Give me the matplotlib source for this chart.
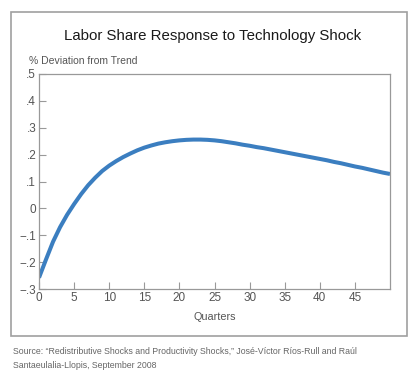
import matplotlib.pyplot as plt
from matplotlib.patches import Rectangle

quarters = list(range(51))
labor_share = [-0.258, -0.19, -0.124, -0.07, -0.024, 0.016, 0.053, 0.086, 0.114, 0.139,
               0.159, 0.176, 0.191, 0.204, 0.216, 0.226, 0.234, 0.241, 0.246, 0.250,
               0.253, 0.255, 0.256, 0.256, 0.255, 0.253, 0.250, 0.246, 0.242, 0.237,
               0.233, 0.228, 0.224, 0.219, 0.214, 0.209, 0.204, 0.199, 0.194, 0.189,
               0.184, 0.179, 0.173, 0.168, 0.162, 0.156, 0.151, 0.145, 0.139, 0.133,
               0.128]
y_ticks = [-0.3, -0.2, -0.1, 0, 0.1, 0.2, 0.3, 0.4, 0.5]
y_labels = ['\u2212.3', '\u2212.2', '\u2212.1', '0', '.1', '.2', '.3', '.4', '.5']
x_ticks = list(range(0, 50, 5))

plt.rcParams['font.family'] = ['Liberation Sans', 'DejaVu Sans']

grey = '#555555'
fig = plt.figure(figsize=(4.15, 3.82), dpi=100)

# outer frame
fig.patches.append(Rectangle((11 / 415, 1 - 336 / 382), 396 / 415, 324 / 382,
                             transform=fig.transFigure, fill=False,
                             edgecolor='#a0a0a0', linewidth=1.2))

ax = fig.add_axes([39 / 415, 1 - 289 / 382, 351 / 415, 215 / 382])
ax.plot(quarters, labor_share, color='#3b7ec0', linewidth=2.9, solid_capstyle='butt')
ax.set_xlim(0, 50)
ax.set_ylim(-0.3, 0.5)
ax.set_yticks(y_ticks)
ax.set_yticklabels(y_labels)
ax.set_xticks(x_ticks)
ax.tick_params(direction='in', length=5, width=0.8, color='#999999',
               labelcolor=grey, labelsize=8.5, pad=2)
for s in ax.spines.values():
    s.set_color('#999999')
    s.set_linewidth(0.9)

fig.text(0.513, 1 - 36 / 382, 'Labor Share Response to Technology Shock',
         ha='center', va='center', fontsize=10.8, color='#1a1a1a')
fig.text(29 / 415, 1 - 61 / 382, '% Deviation from Trend',
         ha='left', va='center', fontsize=7.5, color=grey)
fig.text(215 / 415, 1 - 317 / 382, 'Quarters',
         ha='center', va='center', fontsize=7.8, color=grey)
fig.text(13 / 415, 1 - 352 / 382,
         'Source: \u201cRedistributive Shocks and Productivity Shocks,\u201d Jos\u00e9-V\u00edctor R\u00edos-Rull and Ra\u00fal',
         ha='left', va='center', fontsize=6.3, color='#666666')
fig.text(13 / 415, 1 - 365 / 382, 'Santaeulalia-Llopis, September 2008',
         ha='left', va='center', fontsize=6.3, color='#666666')

fig.savefig('out.png', dpi=100)
